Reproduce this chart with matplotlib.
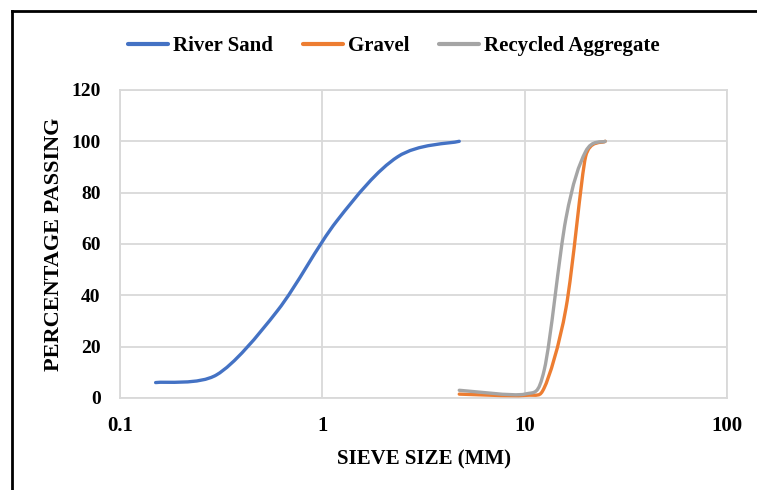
import matplotlib.pyplot as plt
import numpy as np
from matplotlib.lines import Line2D
from matplotlib.patches import PathPatch
from matplotlib.path import Path

# sieve analysis data
sand_size = [0.15, 0.3, 0.6, 1.18, 2.36, 4.75]
sand_pass = [6, 9, 34, 69, 94, 100]

coarse_size = [4.75, 10, 12.5, 16, 20, 25]
gravel_pass = [1.5, 1, 4, 35, 94, 100]
recycled_pass = [3, 1.5, 11, 70, 96, 100]

series_names = ["River Sand", "Gravel", "Recycled Aggregate"]
colors = ["#4472C4", "#ED7D31", "#A5A5A5"]

x_ticks = [0.1, 1, 10, 100]
x_ticklabels = ["0.1", "1", "10", "100"]
y_ticks = [0, 20, 40, 60, 80, 100, 120]

plt.rcParams["font.family"] = ["Liberation Serif", "DejaVu Serif"]
plt.rcParams["font.weight"] = "bold"

# rough pixel scale of the plot area, used only to shape the smoothing
PX_DECADE = 202.0
PX_UNIT = 2.567
OVERSHOOT = 1.0 * PX_UNIT  # how far a control point may leave its segment


def smooth_path(xs, ys):
    # excel-like smoothed line: catmull-rom bezier; each tangent is shortened
    # when needed so the curve stays (roughly) inside its segments' y-range
    pts = np.column_stack([np.log10(xs) * PX_DECADE, np.array(ys) * PX_UNIT])
    n = len(pts)
    tang = []
    for i in range(n):
        t = (pts[min(i + 1, n - 1)] - pts[max(i - 1, 0)]) / 6
        s = 1.0
        if t[1] != 0:
            for j, sign in ((i + 1, 1), (i - 1, -1)):
                if 0 <= j < n:
                    lo = min(pts[i][1], pts[j][1]) - OVERSHOOT
                    hi = max(pts[i][1], pts[j][1]) + OVERSHOOT
                    y = pts[i][1] + sign * t[1]
                    if y > hi:
                        s = min(s, (hi - pts[i][1]) / (sign * t[1]))
                    elif y < lo:
                        s = min(s, (lo - pts[i][1]) / (sign * t[1]))
        tang.append(t * max(s, 0.0))
    verts = [pts[0]]
    codes = [Path.MOVETO]
    for i in range(n - 1):
        verts += [pts[i] + tang[i], pts[i + 1] - tang[i + 1], pts[i + 1]]
        codes += [Path.CURVE4] * 3
    verts = np.array(verts)
    verts[:, 0] = 10 ** (verts[:, 0] / PX_DECADE)
    verts[:, 1] = verts[:, 1] / PX_UNIT
    return Path(verts, codes)


fig = plt.figure(figsize=(7.57, 4.9), dpi=100)
ax = fig.add_axes([0.1585, 0.1878, 0.8019, 0.6286])

for xs, ys, c in [(sand_size, sand_pass, colors[0]),
                  (coarse_size, gravel_pass, colors[1]),
                  (coarse_size, recycled_pass, colors[2])]:
    patch = PathPatch(smooth_path(xs, ys), fill=False, edgecolor=c,
                      lw=2.4, capstyle="round", joinstyle="round", zorder=3)
    ax.add_patch(patch)

ax.set_xscale("log")
ax.set_xlim(0.1, 100)
ax.set_ylim(0, 120)
ax.set_xticks(x_ticks)
ax.set_xticklabels(x_ticklabels)
ax.minorticks_off()
ax.set_yticks(y_ticks)
ax.tick_params(length=0, labelsize=14)
ax.tick_params(axis="x", pad=13, labelsize=15)
ax.tick_params(axis="y", pad=14)
for lab in ax.get_xticklabels() + ax.get_yticklabels():
    lab.set_fontweight("bold")

ax.grid(True, color="#d9d9d9", lw=1.3)
ax.set_axisbelow(True)
for s in ax.spines.values():
    s.set_color("#d9d9d9")
    s.set_linewidth(1.3)

ax.set_xlabel("SIEVE SIZE (MM)", fontsize=15, fontweight="bold", labelpad=10)
ax.set_ylabel("PERCENTAGE PASSING", fontsize=16, fontweight="bold", labelpad=5)

handles = [Line2D([], [], color=c, lw=3, solid_capstyle="round") for c in colors]
fig.legend(handles, series_names, loc="center", bbox_to_anchor=(0.5205, 0.906),
           ncol=3, frameon=False, handlelength=1.9,
           handletextpad=0.25, columnspacing=1.45,
           prop={"size": 15, "weight": "bold"})

# outer black frame (left and top edges visible)
fig.add_artist(Line2D([12 / 757, 12 / 757], [0, 1 - 11 / 490], color="black", lw=2))
fig.add_artist(Line2D([12 / 757, 1], [1 - 11 / 490, 1 - 11 / 490], color="black", lw=2))

fig.savefig("out.png", dpi=100)
